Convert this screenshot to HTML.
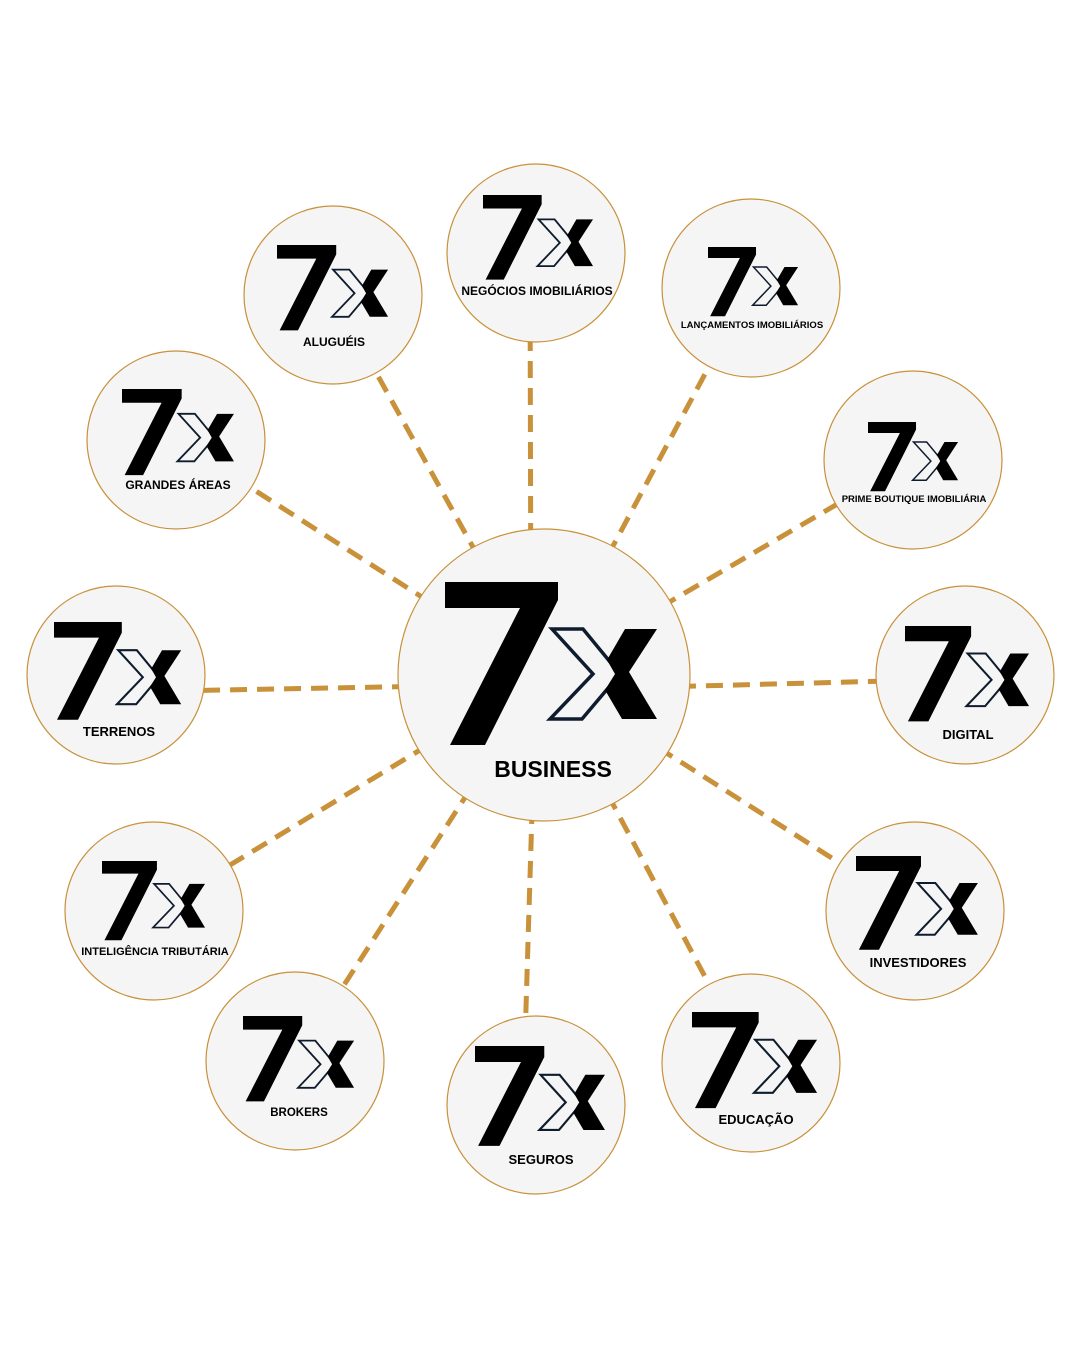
<!DOCTYPE html>
<html><head><meta charset="utf-8"><style>
html,body{margin:0;padding:0;background:#fff;}
svg{display:block}
text{font-family:"Liberation Sans",sans-serif;font-weight:bold;fill:#000;text-anchor:middle}
</style></head><body>
<svg width="1080" height="1350" viewBox="0 0 1080 1350" xmlns="http://www.w3.org/2000/svg">
<defs>
<g id="logo">
<polygon points="0,0 113,0 113,18 40,163 5,163 75,26 0,26" fill="#000"/>
<polygon points="107,47 138,47 175,92 137,137 105,137 148,92" fill="none" stroke="#0f1c2e" stroke-width="3.5" stroke-linejoin="miter"/>
<polygon points="180,47 212,47 184,90 212,137 177,137 160,108 170,92 162,78" fill="#000"/>
</g>
</defs>
<g stroke="#c8913a" stroke-width="5" stroke-dasharray="17 10" fill="none">
<line x1="531" y1="675" x2="530" y2="253"/>
<line x1="544" y1="675" x2="333" y2="295"/>
<line x1="544" y1="675" x2="751" y2="288"/>
<line x1="544" y1="675" x2="176" y2="440"/>
<line x1="544" y1="675" x2="913" y2="460"/>
<line x1="544" y1="684" x2="116" y2="692"/>
<line x1="544" y1="690" x2="965" y2="679"/>
<line x1="544" y1="675" x2="154" y2="911"/>
<line x1="544" y1="675" x2="915" y2="911"/>
<line x1="544" y1="675" x2="295" y2="1061"/>
<line x1="533" y1="780" x2="523" y2="1105"/>
<line x1="544" y1="675" x2="751" y2="1063"/>
</g>
<g fill="#f5f5f5" stroke="#c8913a" stroke-width="1.2">
<circle cx="544" cy="675" r="146"/>
<circle cx="536" cy="253" r="89"/>
<circle cx="333" cy="295" r="89"/>
<circle cx="751" cy="288" r="89"/>
<circle cx="176" cy="440" r="89"/>
<circle cx="913" cy="460" r="89"/>
<circle cx="116" cy="675" r="89"/>
<circle cx="965" cy="675" r="89"/>
<circle cx="154" cy="911" r="89"/>
<circle cx="915" cy="911" r="89"/>
<circle cx="295" cy="1061" r="89"/>
<circle cx="536" cy="1105" r="89"/>
<circle cx="751" cy="1063" r="89"/>
</g>
<use href="#logo" transform="translate(445,582)"/>
<text x="553" y="777" font-size="23">BUSINESS</text>

<use href="#logo" transform="translate(483,195) scale(0.519)"/>
<text x="537" y="295" font-size="12">NEGÓCIOS IMOBILIÁRIOS</text>

<use href="#logo" transform="translate(277,245) scale(0.524)"/>
<text x="334" y="346" font-size="12">ALUGUÉIS</text>

<use href="#logo" transform="translate(708,247) scale(0.425)"/>
<text x="752" y="328" font-size="9.5">LANÇAMENTOS IMOBILIÁRIOS</text>

<use href="#logo" transform="translate(122,389) scale(0.528)"/>
<text x="178" y="489" font-size="12">GRANDES ÁREAS</text>

<use href="#logo" transform="translate(868,422) scale(0.425)"/>
<text x="914" y="502" font-size="9.5">PRIME BOUTIQUE IMOBILIÁRIA</text>

<use href="#logo" transform="translate(54,622) scale(0.6)"/>
<text x="119" y="736" font-size="13">TERRENOS</text>

<use href="#logo" transform="translate(905,626) scale(0.585)"/>
<text x="968" y="739" font-size="13">DIGITAL</text>

<use href="#logo" transform="translate(102,861) scale(0.486)"/>
<text x="155" y="955" font-size="11">INTELIGÊNCIA TRIBUTÁRIA</text>

<use href="#logo" transform="translate(856,856) scale(0.575)"/>
<text x="918" y="967" font-size="13">INVESTIDORES</text>

<use href="#logo" transform="translate(243,1016) scale(0.524)"/>
<text x="299" y="1116" font-size="11.5">BROKERS</text>

<use href="#logo" transform="translate(475,1046) scale(0.613)"/>
<text x="541" y="1164" font-size="13">SEGUROS</text>

<use href="#logo" transform="translate(692,1012) scale(0.59)"/>
<text x="756" y="1124" font-size="13">EDUCAÇÃO</text>
</svg>
</body></html>
